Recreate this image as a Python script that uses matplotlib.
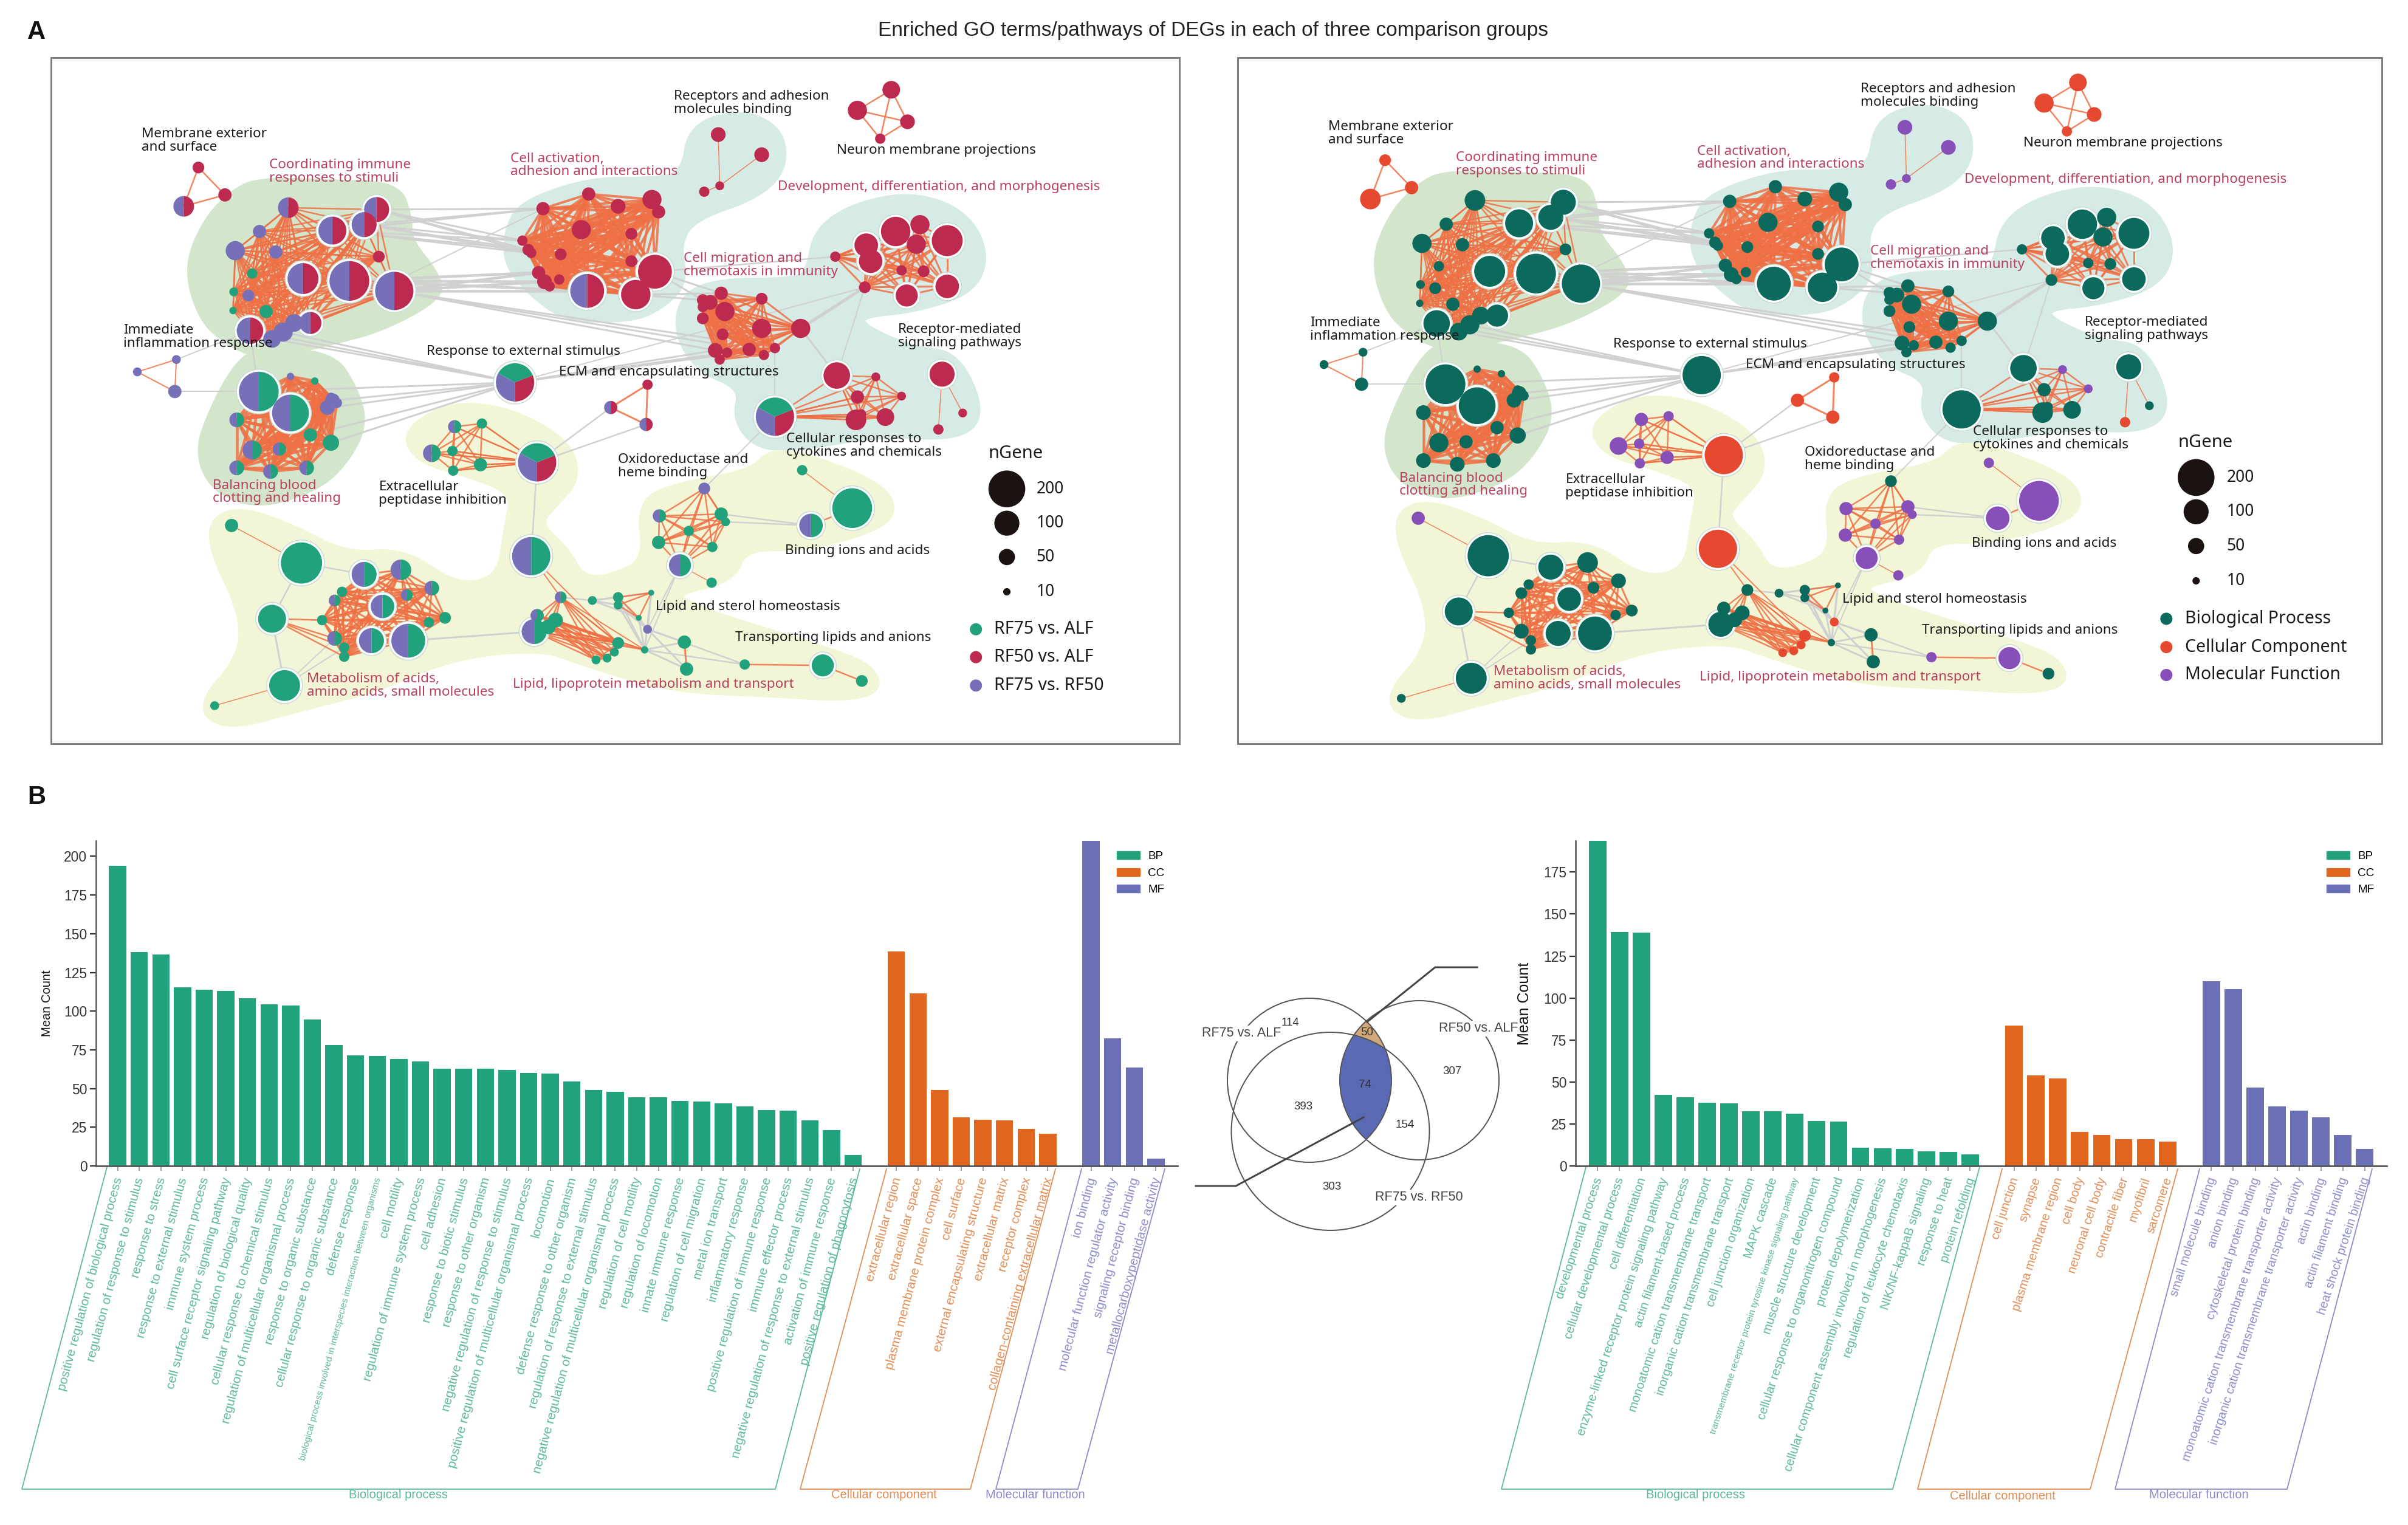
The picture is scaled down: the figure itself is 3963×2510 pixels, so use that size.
#! /usr/bin/python3 -u

import numpy as np
import matplotlib
matplotlib.use('Agg')
import matplotlib.pyplot as plt
from matplotlib.patches import Circle, Wedge, Polygon, Rectangle, Patch
from matplotlib.transforms import ScaledTranslation

###############################################################################

W=3963
H=2510
plt.rcParams['font.family']=['Liberation Sans','DejaVu Sans']
NET_FONT='Noto Sans'

# Bar chart values and labels, left
bp1_labels=['positive regulation of biological process','regulation of response to stimulus',
            'response to stress','response to external stimulus','immune system process',
            'cell surface receptor signaling pathway','regulation of biological quality',
            'cellular response to chemical stimulus','regulation of multicellular organismal process',
            'response to organic substance','cellular response to organic substance','defense response',
            'biological process involved in interspecies interaction between organisms','cell motility',
            'regulation of immune system process','cell adhesion','response to biotic stimulus',
            'response to other organism','negative regulation of response to stimulus',
            'positive regulation of multicellular organismal process','locomotion',
            'defense response to other organism','regulation of response to external stimulus',
            'negative regulation of multicellular organismal process','regulation of cell motility',
            'regulation of locomotion','innate immune response','regulation of cell migration',
            'metal ion transport','inflammatory response','positive regulation of immune response',
            'immune effector process','negative regulation of response to external stimulus',
            'activation of immune response','positive regulation of phagocytosis']
bp1_vals=[194,138,136.5,115.5,114,113,108.5,104.5,103.5,94.5,78,71.5,71,69,67.5,63,63,63,62,60,59.5,
          54.5,49,48,44.4,44.4,42,41.8,40.3,38.3,36,35.7,29.4,23,7.2]
cc1_labels=['extracellular region','extracellular space','plasma membrane protein complex','cell surface',
            'external encapsulating structure','extracellular matrix','receptor complex',
            'collagen-containing extracellular matrix']
cc1_vals=[138.6,111.5,49,31.4,29.7,29.4,24,20.7]
mf1_labels=['ion binding','molecular function regulator activity','signaling receptor binding',
            'metallocarboxypeptidase activity']
mf1_vals=[240,82.4,63.7,4.9]

# Bar chart values and labels, right
bp2_labels=['developmental process','cellular developmental process','cell differentiation',
            'enzyme-linked receptor protein signaling pathway','actin filament-based process',
            'monoatomic cation transmembrane transport','inorganic cation transmembrane transport',
            'cell junction organization','MAPK cascade',
            'transmembrane receptor protein tyrosine kinase signaling pathway','muscle structure development',
            'cellular response to organonitrogen compound','protein depolymerization',
            'cellular component assembly involved in morphogenesis','regulation of leukocyte chemotaxis',
            'NIK/NF-kappaB signaling','response to heat','protein refolding']
bp2_vals=[200,139.4,138.9,42.5,40.9,37.7,37.4,32.4,32.4,31.3,26.8,26.3,10.9,10.4,10.1,8.8,8.2,6.9]
cc2_labels=['cell junction','synapse','plasma membrane region','cell body','neuronal cell body',
            'contractile fiber','myofibril','sarcomere']
cc2_vals=[83.6,53.9,52,20.4,18.6,15.9,15.9,14.3]
mf2_labels=['small molecule binding','anion binding','cytoskeletal protein binding',
            'monoatomic cation transmembrane transporter activity',
            'inorganic cation transmembrane transporter activity','actin binding','actin filament binding',
            'heat shock protein binding']
mf2_vals=[110,105.4,46.7,35.3,32.9,28.9,18.6,10.1]

venn_numbers=[('114',2123,1683),('50',2250,1699),('74',2246,1786),('393',2145,1821),
              ('307',2390,1763),('154',2312,1852),('303',2192,1953)]
venn_names=[('RF75 vs. ALF',2043,1701),('RF50 vs. ALF',2433,1693),('RF75 vs. RF50',2335,1971)]

# Network: node = (x, y, width, share in left panel, GO class in right panel)
immune=[(342,348,28,'PR','B'),(462,352,34,'PR','B'),(402,398,38,'PR','B'),(445,385,34,'PR','B'),
        (303,400,18,'P','B'),(270,442,26,'P','B'),(325,445,18,'P','B'),(465,455,16,'R','B'),
        (293,492,14,'G','B'),(362,503,42,'PR','B'),(425,508,54,'PR','B'),(486,530,52,'PR','B'),
        (268,532,12,'G','B'),(288,540,16,'P','B'),(267,573,10,'G','B'),(312,575,18,'G','B'),
        (372,600,30,'PR','B'),(350,600,24,'P','B'),(290,617,36,'PR','B'),(335,620,26,'P','B'),
        (320,635,24,'P','B')]
blood=[(302,750,54,'GP','B'),(345,797,50,'GP','B'),(345,717,10,'P','B'),(378,727,10,'G','B'),
       (402,770,20,'P','B'),(395,785,20,'P','B'),(400,762,12,'P','B'),(408,775,14,'P','B'),
       (272,812,20,'GP','B'),(293,878,26,'GP','B'),(330,876,18,'GP','B'),(372,845,18,'G','B'),
       (400,862,22,'G','B'),(272,917,20,'GP','B'),(318,925,20,'GP','B'),(367,917,20,'GP','B')]
activation=[(750,318,18,'R','B'),(688,350,18,'R','B'),(790,345,20,'R','B'),(836,330,26,'R','B'),
            (845,357,18,'R','B'),(740,396,26,'R','B'),(808,405,16,'R','B'),(660,420,14,'R','B'),
            (668,440,16,'R','B'),(672,447,14,'R','B'),(712,450,16,'R','B'),(808,465,16,'R','B'),
            (840,488,46,'R','B'),(682,490,18,'R','B'),(690,510,20,'R','B'),(710,505,14,'R','B'),
            (748,530,46,'PR','B'),(814,538,40,'R','B'),(697,520,14,'R','B')]
receptors=[(926,188,20,'R','M'),(985,232,20,'R','M'),(928,300,12,'R','M'),(907,313,14,'R','M')]
neuron=[(1161,90,24,'R','C'),(1115,135,26,'R','C'),(1183,160,20,'R','C'),(1146,197,14,'R','C')]
membrane=[(220,260,16,'R','C'),(256,320,18,'R','C'),(200,345,28,'PR','C')]
develop=[(1167,400,40,'R','B'),(1200,385,26,'R','B'),(1237,420,42,'R','B'),(1127,430,32,'R','B'),
         (1195,428,26,'R','B'),(1133,465,32,'R','B'),(1237,520,32,'R','B'),(1182,540,30,'R','B'),
         (1175,485,14,'R','B'),(1205,487,16,'R','B'),(1125,522,16,'R','B'),(1085,455,14,'R','B')]
migration=[(905,550,16,'R','B'),(930,535,18,'R','B'),(985,547,16,'R','B'),(915,555,20,'R','B'),
           (935,575,26,'R','B'),(905,590,16,'R','B'),(985,612,26,'R','B'),(1038,612,26,'R','B'),
           (932,625,16,'R','B'),(922,660,20,'R','B'),(968,658,18,'R','B'),(1003,655,14,'R','B'),
           (988,670,14,'R','B'),(928,680,14,'R','B'),(938,665,14,'R','B'),(905,565,14,'R','B')]
cytokines=[(1087,715,36,'R','B'),(1003,805,52,'RGP','B'),(1140,718,12,'R','M'),(1175,760,12,'R','M'),
           (1115,762,18,'R','B'),(1113,812,28,'R','B'),(1153,806,24,'R','B'),(1120,800,14,'R','B')]
signaling=[(1230,712,34,'R','B'),(1258,797,12,'R','B'),(1225,833,14,'R','C')]
inflam=[(190,680,12,'P','B'),(137,707,12,'P','B'),(188,750,18,'P','B')]
ecm=[(830,735,14,'R','C'),(780,785,18,'PR','C'),(828,822,18,'PR','C')]
stimulus=[(650,730,52,'RGP','B')]
peptidase=[(568,827,18,'GP','M'),(605,820,14,'G','M'),(537,885,24,'GP','M'),(565,880,14,'G','M'),
           (603,910,18,'G','M'),(566,923,14,'G','M'),(680,905,52,'RGP','C')]
oxido=[(907,962,16,'P','B'),(846,1022,18,'GP','M'),(930,1018,18,'G','M'),(936,1035,12,'G','M'),
       (886,1055,14,'G','M'),(845,1080,18,'G','M'),(918,1090,14,'G','M'),(874,1130,30,'GP','M')]
oxido_tail=[(874,1130,30,'GP','M'),(917,1168,14,'G','M')]
binding=[(1040,922,14,'G','M'),(1108,1005,54,'G','M'),(1052,1043,32,'GP','M')]
metab_a=[(265,1043,18,'G','M'),(360,1125,56,'G','B')]
metab_b=[(337,1393,42,'G','B'),(242,1437,12,'G','B')]
metab=[(445,1150,34,'GP','B'),(495,1140,28,'GP','B'),(537,1180,20,'GP','B'),(503,1195,16,'GP','B'),
       (415,1188,14,'G','B'),(405,1207,16,'GP','B'),(470,1220,32,'GP','B'),(555,1245,16,'G','B'),
       (533,1255,14,'G','B'),(388,1250,14,'G','B'),(405,1290,20,'GP','B'),(418,1310,14,'G','B'),
       (418,1330,14,'G','B'),(455,1295,34,'GP','B'),(505,1295,46,'GP','B')]
metab_c=[(320,1247,38,'G','B')]
lipid_top=[(672,1110,52,'GP','C')]
lipid=[(712,1200,16,'GP','B'),(680,1240,18,'GP','B'),(705,1250,20,'G','B'),(695,1265,20,'G','B'),
       (676,1275,34,'GP','B'),(775,1333,12,'G','C'),(760,1337,12,'G','C'),(790,1300,16,'G','C'),
       (785,1320,12,'G','C')]
sterol=[(790,1200,14,'G','B'),(835,1190,8,'G','B'),(790,1217,12,'G','B'),(818,1245,8,'G','B')]
lipid_mid=[(755,1207,12,'G','B'),(830,1270,12,'P','C'),(826,1315,10,'G','B')]
anions_a=[(880,1298,18,'G','B'),(883,1357,18,'G','B')]
anions_b=[(962,1347,14,'G','M'),(1068,1349,30,'G','M'),(1121,1383,16,'G','B')]

# cluster, line width of the links inside it
clusters=[(immune,2.5),(blood,4.5),(activation,4.0),(receptors[:3:2],1.5),(receptors[1:3],1.5),(receptors[2:],1.5),
          (neuron,2.5),(membrane,2.5),(develop,3.0),(migration,3.0),(cytokines,2.5),(signaling[:2],1.5),
          (signaling[0::2],1.5),(inflam,2.0),(ecm,3.0),(peptidase,2.5),(oxido,2.5),(oxido_tail,1.5),
          (binding[:2],1.5),(binding[1:],2.5),(metab_a,1.5),(metab_b,1.5),(metab,3.0),(lipid,2.5),(sterol,2.5),
          (anions_a,3.0),(anions_b[:2],2.5),(anions_b[1:],2.5)]

# gray links between groups of nodes, (from group, to group, line width)
gray_links=[(immune[1:4],activation[1:2]+activation[7:10],3.0),(immune[10:12],activation[13:15]+activation[16:17],4.5),
            (immune[11:12],migration[9:12],3.0),(immune[18:21],stimulus,3.0),(blood[:2]+blood[4:5]+blood[11:13],stimulus,3.0),
            (stimulus,migration[9:12],3.0),(activation[12:13]+activation[17:18],migration[:2],3.0),
            (migration[7:8],develop[10:11],5.0),(migration[7:8],cytokines[:1],3.0),(activation[12:13],develop[11:12],2.5),
            (develop[10:11],cytokines[:1],2.0),(cytokines[1:2],migration[11:12],2.0),(inflam[2:3],blood[:1],2.0),
            (inflam[:1],immune[18:19],2.0),(ecm[1:],peptidase[6:7],2.5),(cytokines[1:2],oxido[:1],2.0),
            (peptidase[6:7],lipid_top,2.5),(blood[:1],immune[18:19],2.5),(binding[2:],oxido[2:4],2.5),
            (metab[14:15],lipid[4:5],3.0),(metab_a[1:],metab_c,2.5),(metab_c,metab_b[:1],3.0),
            (metab_a[1:],metab[:1],2.5),(metab_b[:1],metab[10:12],2.0),(lipid_mid,sterol,3.0),
            (anions_a,lipid_mid[1:],3.0),(anions_b[:1],lipid_mid[1:],2.5),(oxido[7:],lipid_mid[1:],2.0),
            (lipid_mid[:1],lipid[:1],2.5),(immune[16:17],activation[1:2],2.0),(stimulus,develop[10:11],2.0)]
orange_links=[(lipid_top,lipid[:1]+lipid[7:8],2.0),(lipid[:5],lipid_mid[2:]+lipid[7:8],2.0),(metab_c,metab[9:13],2.5),
              (peptidase[:6],peptidase[6:7],2.0),(cytokines[1:2],cytokines[4:8],2.5),(cytokines[:1],cytokines[4:6],2.5),
              (develop[11:12],develop[3:4],3.0),(activation[12:13],activation[5:7],2.5)]

blob_green1=[(300,290),(400,295),(490,300),(505,370),(505,420),(540,490),(550,540),(470,610),(400,640),
             (345,660),(300,670),(260,640),(225,590),(205,480),(230,380),(265,320)]
blob_green2=[(300,660),(400,670),(430,740),(445,820),(420,900),(380,960),(300,1000),(240,960),(220,880),(240,790),(270,700)]
blob_teal1=[(640,400),(660,340),(750,290),(830,290),(880,280),(890,170),(960,140),(1010,180),(1015,260),(980,320),
            (890,370),(870,430),(880,510),(850,560),(810,590),(720,590),(670,530),(640,470)]
blob_teal2=[(1060,400),(1110,345),(1190,320),(1260,360),(1290,450),(1270,530),(1190,570),(1120,580),(1120,610),
            (1190,660),(1250,670),(1285,800),(1250,850),(1150,840),(1040,870),(980,870),(950,810),(960,740),
            (900,700),(870,620),(880,540),(930,510),(1030,510),(1050,490)]
blob_yellow=[(500,840),(560,780),(640,790),(720,860),(735,940),(700,1000),(680,1040),(720,1100),(740,1160),(780,1160),
             (830,1120),(820,1000),(860,960),(970,930),(1000,880),(1060,900),(1150,960),(1165,1020),(1120,1060),
             (1040,1090),(960,1090),(945,1160),(860,1190),(900,1230),(1000,1280),(1060,1310),(1130,1350),(1145,1400),
             (1100,1420),(1000,1410),(860,1400),(740,1340),(690,1310),(600,1320),(530,1350),(460,1400),(360,1440),
             (260,1485),(220,1440),(280,1330),(280,1230),(240,1100),(240,1030),(280,1010),(350,1050),(420,1110),
             (500,1100),(570,1180),(630,1160),(640,1050),(650,970),(590,930),(520,900)]
blobs=[(blob_green1,'#d3e6cb'),(blob_green2,'#d3e6cb'),(blob_teal1,'#d6eae6'),(blob_teal2,'#d6eae6'),(blob_yellow,'#f3f6d6')]

labels_black=[('Membrane exterior\nand surface',143,201),('Receptors and adhesion\nmolecules binding',866,119),
              ('Neuron membrane projections',1087,223),('Immediate\ninflammation response',118,631),
              ('Response to external stimulus',530,663),('ECM and encapsulating structures',710,707),
              ('Receptor-mediated\nsignaling pathways',1170,629),('Cellular responses to\ncytokines and chemicals',1018,868),
              ('Oxidoreductase and\nheme binding',790,914),('Extracellular\npeptidase inhibition',465,973),
              ('Binding ions and acids',1017,1098),('Lipid and sterol homeostasis',841,1220),
              ('Transporting lipids and anions',949,1288)]
labels_red=[('Coordinating immune\nresponses to stimuli',316,269),('Cell activation,\nadhesion and interactions',644,255),
            ('Development, differentiation, and morphogenesis',1007,302),('Cell migration and\nchemotaxis in immunity',879,474),
            ('Balancing blood\nclotting and healing',239,970),('Metabolism of acids,\namino acids, small molecules',367,1393),
            ('Lipid, lipoprotein metabolism and transport',647,1390)]

size_values=[200,100,50,10]
size_widths=[50,34,22,10]
groups_left=['RF75 vs. ALF','RF50 vs. ALF','RF75 vs. RF50']
groups_right=['Biological Process','Cellular Component','Molecular Function']

###############################################################################

GREEN='#21a27c'
CRIMSON='#bd2a50'
PURPLE='#7570b8'
CLASS_COL={'B':'#0b6a5c','C':'#e5492f','M':'#8750b8'}
SHARES={'R':[(CRIMSON,1.)],'G':[(GREEN,1.)],'P':[(PURPLE,1.)],
        'PR':[(PURPLE,.5),(CRIMSON,.5)],'GP':[(PURPLE,.5),(GREEN,.5)],
        'RGP':[(PURPLE,.33),(GREEN,.36),(CRIMSON,.31)]}
BAR_G='#21a27c'
BAR_O='#e0661f'
BAR_P='#6b6fb5'
LAB_G='#5cb89c'
LAB_O='#e08d55'
LAB_P='#8d8cc8'
EDGE_O='#ef7044'
EDGE_G='#d0d0d0'

SX=1900./1568.
SY=1180./1568.

def zx(x,dx=0):
    return 60+x*SX+dx

def zy(y,dy=0):
    return 80+y*SY+dy

def px_lw(p):
    return p*72./100.

def chaikin(pts,n=3):
    p=np.array(pts,dtype=float)
    for i in range(n):
        q=np.roll(p,-1,axis=0)
        p=np.column_stack([.75*p+.25*q,.25*p+.75*q]).reshape(-1,2)
    return p

def draw_node(ax,x,y,w,colors):
    r=w/2.*SX
    if w>=30:
        ax.add_patch(Circle((x,y),r+4,fc='white',ec='#c6dcd5',lw=px_lw(1.5),zorder=5))
    start=90.
    for c,f in colors:
        if f==1.:
            ax.add_patch(Circle((x,y),r,fc=c,ec='none',zorder=6))
        else:
            ax.add_patch(Wedge((x,y),r,start,start+360*f,fc=c,ec='none',zorder=6))
        start+=360*f

def draw_network(ax,dx,dy,left):
    for pts,col in blobs:
        p=chaikin(pts)
        ax.add_patch(Polygon(np.column_stack([zx(p[:,0],dx),zy(p[:,1],dy)]),closed=True,fc=col,ec=col,lw=px_lw(14),
                             joinstyle='round',zorder=1))
    # gray links go below orange ones
    for a,b,lw in gray_links:
        for na in a:
            for nb in b:
                ax.plot([zx(na[0],dx),zx(nb[0],dx)],[zy(na[1],dy),zy(nb[1],dy)],color=EDGE_G,lw=px_lw(lw),zorder=2)
    for nodes,lw in clusters:
        for i in range(len(nodes)):
            for j in range(i+1,len(nodes)):
                ax.plot([zx(nodes[i][0],dx),zx(nodes[j][0],dx)],[zy(nodes[i][1],dy),zy(nodes[j][1],dy)],
                        color=EDGE_O,lw=px_lw(lw),alpha=.85,zorder=3)
    for a,b,lw in orange_links:
        for na in a:
            for nb in b:
                ax.plot([zx(na[0],dx),zx(nb[0],dx)],[zy(na[1],dy),zy(nb[1],dy)],color=EDGE_O,lw=px_lw(lw),alpha=.85,zorder=3)
    drawn=set()
    everything=[immune,blood,activation,receptors,neuron,membrane,develop,migration,cytokines,signaling,inflam,ecm,stimulus,
                peptidase,oxido,oxido_tail,binding,metab_a,metab_b,metab,metab_c,lipid_top,lipid,sterol,lipid_mid,anions_a,anions_b]
    for nodes in everything:
        for n in nodes:
            if n[:2] in drawn:
                continue
            drawn.add(n[:2])
            if left:
                colors=SHARES[n[3]]
            else:
                colors=[(CLASS_COL[n[4]],1.)]
            draw_node(ax,zx(n[0],dx),zy(n[1],dy),n[2],colors)
    for txt,x,y in labels_black:
        ax.text(zx(x,dx),zy(y,dy),txt,family=NET_FONT,fontsize=16.2,color='#1a1a1a',ha='left',va='center',linespacing=1.05,zorder=8)
    for txt,x,y in labels_red:
        ax.text(zx(x,dx),zy(y,dy),txt,family=NET_FONT,fontsize=16.2,color='#b8405f',ha='left',va='center',linespacing=1.05,zorder=8)

def bar_panel(x0,x1,xlim,ylim,yticks,bp,cc,mf,bp_l,cc_l,mf_l,rot,lab_size,small,ylab_x,ylab_size,leg_x):
    y0=1384
    y1=1919
    ax=fig.add_axes([x0/W,1-y1/H,(x1-x0)/W,(y1-y0)/H])
    ax.patch.set_alpha(0)
    n1=len(bp)
    n2=len(cc)
    n3=len(mf)
    k1=np.arange(n1)
    k2=n1+1+np.arange(n2)
    k3=n1+n2+2+np.arange(n3)
    ax.bar(k1,bp,width=.8,color=BAR_G)
    ax.bar(k2,cc,width=.8,color=BAR_O)
    ax.bar(k3,mf,width=.8,color=BAR_P)
    ax.set_xlim(xlim)
    ax.set_ylim(0,ylim)
    ax.set_yticks(yticks)
    ax.tick_params(axis='y',labelsize=16.5,colors='#333333',length=7,width=1.6)
    ax.tick_params(axis='x',length=6,width=1.2,color='#888888',pad=8)
    ax.set_xticks(np.concatenate([k1,k2,k3])+.0)
    names=bp_l+cc_l+mf_l
    cols=[LAB_G]*n1+[LAB_O]*n2+[LAB_P]*n3
    ax.set_xticklabels(names,rotation=rot,ha='right',va='center',rotation_mode='anchor')
    shift=ScaledTranslation(2/100.,0,fig.dpi_scale_trans)
    for t,c,name in zip(ax.get_xticklabels(),cols,names):
        t.set_color(c)
        t.set_fontsize(small if name in small_names else lab_size)
        t.set_transform(t.get_transform()+shift)
    for s in ['top','right']:
        ax.spines[s].set_visible(False)
    ax.spines['left'].set_color('#666666')
    ax.spines['left'].set_linewidth(2.0)
    ax.spines['bottom'].set_color('#555555')
    ax.spines['bottom'].set_linewidth(2.0)
    ax.set_ylabel('Mean Count',fontsize=ylab_size,color='#111111')
    ax.yaxis.set_label_coords((ylab_x-x0)/float(x1-x0),.5)
    handles=[Patch(color=BAR_G,label='BP'),Patch(color=BAR_O,label='CC'),Patch(color=BAR_P,label='MF')]
    ax.legend(handles=handles,loc='upper left',bbox_to_anchor=(leg_x/W,1-1401./H),bbox_transform=fig.transFigure,
              frameon=False,fontsize=13.6,handlelength=2.0,handleheight=.7,handletextpad=.7,labelspacing=.55,
              borderpad=0,borderaxespad=0)
    return ax

###############################################################################

fig=plt.figure(figsize=(W/100.,H/100.),dpi=100)
ov=fig.add_axes([0,0,1,1])
ov.set_xlim(0,W)
ov.set_ylim(H,0)
ov.axis('off')

ov.text(1996,51,'Enriched GO terms/pathways of DEGs in each of three comparison groups',fontsize=24,color='#222222',ha='center',va='center')
ov.text(60,53,'A',fontsize=30,fontweight='bold',color='#111111',ha='center',va='center')
ov.text(60,1312,'B',fontsize=30,fontweight='bold',color='#111111',ha='center',va='center')

# panel A frames
ov.add_patch(Rectangle((84,95),1857,1129,fc='none',ec='#808080',lw=px_lw(3),zorder=9))
ov.add_patch(Rectangle((2037,95),1883,1129,fc='none',ec='#808080',lw=px_lw(3),zorder=9))

draw_network(ov,0,0,True)
draw_network(ov,1953,-12,False)

# size and group legends, left
ov.text(zx(1293),zy(885),'nGene',family=NET_FONT,fontsize=21,color='#1a1a1a',ha='left',va='center')
for v,w,y in zip(size_values,size_widths,[963,1038,1112,1188]):
    ov.add_patch(Circle((zx(1318),zy(y)),w/2.*SX,fc='#1a1311',ec='none',zorder=6))
    ov.text(zx(1358),zy(y),str(v),family=NET_FONT,fontsize=19,color='#1a1a1a',ha='left',va='center')
for g,c,y in zip(groups_left,[GREEN,CRIMSON,PURPLE],[1270,1331,1393]):
    ov.add_patch(Circle((zx(1276),zy(y)),10,fc=c,ec='none',zorder=6))
    ov.text(zx(1301),zy(y),g,family=NET_FONT,fontsize=20.5,color='#1a1a1a',ha='left',va='center')

# and right
RSX=1920./1568.
ov.text(2020+1278*RSX,zy(862),'nGene',family=NET_FONT,fontsize=21,color='#1a1a1a',ha='left',va='center')
for v,w,y in zip(size_values,size_widths,[938,1013,1088,1164]):
    ov.add_patch(Circle((2020+1302*RSX,zy(y)),w/2.*SX,fc='#1a1311',ec='none',zorder=6))
    ov.text(2020+1343*RSX,zy(y),str(v),family=NET_FONT,fontsize=19,color='#1a1a1a',ha='left',va='center')
for g,k,y in zip(groups_right,['B','C','M'],[1247,1309,1370]):
    ov.add_patch(Circle((2020+1262*RSX,zy(y)),10,fc=CLASS_COL[k],ec='none',zorder=6))
    ov.text(2020+1287*RSX,zy(y),g,family=NET_FONT,fontsize=20.5,color='#1a1a1a',ha='left',va='center')

# panel B bars
small_names=['biological process involved in interspecies interaction between organisms',
             'transmembrane receptor protein tyrosine kinase signaling pathway']
bar_panel(158,1938,(-1,49),210,[0,25,50,75,100,125,150,175,200],bp1_vals,cc1_vals,mf1_vals,bp1_labels,cc1_labels,mf1_labels,
          75,15.0,10.6,87,14.5,1838)
bar_panel(2593,3928,(-1,36),193.6,[0,25,50,75,100,125,150,175],bp2_vals,cc2_vals,mf2_vals,bp2_labels,cc2_labels,mf2_labels,
          72,14.6,10.8,2521,18,3829)

# brackets round the tick labels
brackets=[[(176,1921),(36,2451),(1276,2451),(1415,1924),LAB_G],
          [(1459,1924),(1317,2451),(1597,2451),(1737,1924),LAB_O],
          [(1780,1924),(1639,2451),(1774,2451),(1917,1924),LAB_P],
          [(2610,1921),(2471,2451),(3115,2451),(3258,1921),LAB_G],
          [(3295,1924),(3156,2451),(3440,2451),(3584,1924),LAB_O],
          [(3620,1924),(3481,2451),(3764,2451),(3904,1924),LAB_P]]
for b in brackets:
    xs=[q[0] for q in b[:4]]
    ys=[q[1] for q in b[:4]]
    ov.plot(xs,ys,color=b[4],lw=px_lw(1.8))
for txt,x,y,c in [('Biological process',655,2461,LAB_G),('Cellular component',1455,2461,LAB_O),('Molecular function',1704,2461,LAB_P),
                  ('Biological process',2790,2461,LAB_G),('Cellular component',3296,2463,LAB_O),('Molecular function',3619,2461,LAB_P)]:
    ov.text(x,y,txt,fontsize=14.5,color=c,ha='center',va='center')

# Venn
venn_a=(2155,1778,135)
venn_b=(2336,1778,131)
venn_c=(2189.5,1862,163)
d=venn_b[0]-venn_a[0]
xm=(d*d+venn_a[2]**2-venn_b[2]**2)/(2.*d)
hh=np.sqrt(venn_a[2]**2-xm**2)
ya=np.linspace(-hh,hh,100)
xa=venn_a[0]+np.sqrt(venn_a[2]**2-ya**2)
xb=venn_b[0]-np.sqrt(venn_b[2]**2-ya**2)
lens=np.vstack([np.column_stack([xa,venn_a[1]+ya]),np.column_stack([xb,venn_a[1]+ya])[::-1]])
ov.add_patch(Polygon(lens,closed=True,fc='#d3a778',ec='none',zorder=2))
blue=Polygon(lens,closed=True,fc='#5a69b4',ec='none',zorder=3)
ov.add_patch(blue)
clip_c=Circle(venn_c[:2],venn_c[2],transform=ov.transData)
blue.set_clip_path(clip_c)
for cx,cy,r in [venn_a,venn_b,venn_c]:
    ov.add_patch(Circle((cx,cy),r,fc='none',ec='#555555',lw=px_lw(2),zorder=4))
for txt,x,y in venn_names:
    ov.text(x,y,txt,fontsize=15.5,color='#444444',ha='center',va='center',zorder=5,
            bbox=dict(fc='white',ec='none',pad=2))
for txt,x,y in venn_numbers:
    ov.text(x,y,txt,fontsize=13.5,color='#333333',ha='center',va='center',zorder=5)
ov.plot([2250,2362,2431],[1682,1592,1592],color='#444444',lw=px_lw(3),zorder=5)
ov.plot([2244,2034,1968],[1839,1952,1952],color='#444444',lw=px_lw(3),zorder=5)

fig.savefig('out.png',dpi=100)
